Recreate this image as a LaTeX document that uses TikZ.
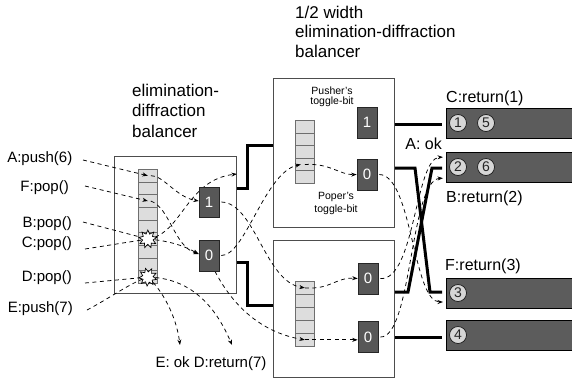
\documentclass[tikz,border=0pt]{standalone}
\usepackage{fontspec}
\setmainfont{Liberation Sans}
\usetikzlibrary{arrows.meta,shapes.geometric}

\definecolor{framegray}{HTML}{4D4D4D}
\definecolor{cellfill}{HTML}{DDDDDD}
\definecolor{cellrule}{HTML}{6E6E6E}
\definecolor{togglefill}{HTML}{575757}
\definecolor{barfill}{HTML}{5C5C5C}
\definecolor{ballfill}{HTML}{D6D6D6}

\newcommand{\fsz}[1]{\fontsize{#1}{#1}\selectfont}
\pgfdeclarelayer{front}
\pgfsetlayers{main,front}

\begin{document}
\begin{tikzpicture}[x=1pt,y=-1pt,
  balbox/.style={draw=framegray,line width=0.9pt,fill=white,inner sep=0pt,anchor=north west},
  cell/.style={draw=cellrule,fill=cellfill,line width=0.7pt,inner sep=0pt,minimum width=19pt,anchor=north west},
  toggle/.style={draw=black!85,fill=togglefill,text=white,line width=0.6pt,inner sep=0pt,
                 minimum width=20pt,minimum height=31pt,font=\fsz{15}},
  outbar/.style={draw=black,fill=barfill,line width=0.7pt,inner sep=0pt,
                 minimum width=128pt,minimum height=30pt,anchor=north west},
  ball/.style={circle,draw=black!90,fill=ballfill,line width=0.7pt,inner sep=0pt,
               minimum size=17pt,font=\fsz{14},text=black!85},
  wire/.style={line width=3pt,line join=miter},
  flow/.style={line width=0.75pt,dash pattern=on 4pt off 3.5pt},
  flowto/.style={flow,-{Stealth[length=5.5pt,width=4pt]}},
  lbl/.style={inner sep=0pt,font=\fsz{15}},
  rlbl/.style={inner sep=0pt,font=\fsz{16}},
  ttl/.style={inner sep=0pt,font=\fsz{17},anchor=base west},
  note/.style={inner sep=0pt,font=\fsz{10.5},anchor=base},
  crash/.style={star,star points=9,star point ratio=1.7,minimum size=18pt,inner sep=0pt,
                draw=black,fill=white,line width=0.7pt}
]
\useasboundingbox (0,0) rectangle (572,381);

% balancer frames
\node[balbox,minimum width=122pt,minimum height=137pt] (lb) at (114,156) {};
\node[balbox,minimum width=121pt,minimum height=149pt] (ub) at (273,78) {};
\node[balbox,minimum width=121pt,minimum height=137pt] (db) at (273,240) {};

% prism stacks
\foreach \k in {1,...,9}
  \node[cell,minimum height=12.67pt] (ls\k) at (138,{169+(\k-1)*12.67}) {};
\foreach \k in {1,...,5}
  \node[cell,minimum height=12.6pt] (us\k) at (295,{120+(\k-1)*12.6}) {};
\foreach \k in {1,...,5}
  \node[cell,minimum height=13pt] (ds\k) at (295,{281+(\k-1)*13}) {};

% toggle bits and prism collisions sit above the dashed paths
\begin{pgfonlayer}{front}
\node[toggle,minimum height=30pt] (lt1) at (209,202) {1};
\node[toggle] (lt0) at (209,255.5) {0};
\node[toggle] (ut1) at (367,122.5) {1};
\node[toggle] (ut0) at (367,174.5) {0};
\node[toggle] (dta) at (368,278.5) {0};
\node[toggle] (dtb) at (368,337) {0};
\node[crash] (x1) at (ls6.center) {};
\node[crash,rotate=15] (x2) at (ls9.center) {};
\end{pgfonlayer}

% output stacks
\node[outbar] (bar1) at (446,108) {};
\node[outbar] (bar2) at (446,152) {};
\node[outbar] (bar3) at (446,278) {};
\node[outbar] (bar4) at (446,320) {};
\node[ball] (b1) at (458,123) {1};
\node[ball] (b5) at (486,123) {5};
\node[ball] (b2) at (458,167) {2};
\node[ball] (b6) at (486,167) {6};
\node[ball] (b3) at (458,293) {3};
\node[ball] (b4) at (458,335) {4};

% titles and notes
\node[ttl] (lta) at (132,96) {elimination-};
\node[ttl] (ltb) at (132,116.5) {diffraction};
\node[ttl] (ltc) at (132,137) {balancer};
\node[ttl] (uta) at (295,18) {1/2 width};
\node[ttl] (utb) at (295,37.5) {elimination-diffraction};
\node[ttl] (utc) at (295,57) {balancer};
\node[note] (pusha) at (332,94) {Pusher's};
\node[note] (pushb) at (332,104.5) {toggle-bit};
\node[note] (popa) at (336,199) {Poper's};
\node[note] (popb) at (336,212) {toggle-bit};

% operation labels
\node[lbl,anchor=east] (la) at (72.5,159) {A:push(6)};
\node[lbl,anchor=east] (lf) at (69,188) {F:pop()};
\node[lbl,anchor=east] (lbp) at (72,224) {B:pop()};
\node[lbl,anchor=east] (lc) at (72,244) {C:pop()};
\node[lbl,anchor=east] (ld) at (72,277.5) {D:pop()};
\node[lbl,anchor=east] (le) at (73,309) {E:push(7)};
\node[rlbl,anchor=base west] (rc) at (446,102) {C:return(1)};
\node[rlbl,anchor=base east] (rok) at (442,149) {A: ok};
\node[rlbl,anchor=base west] (rb) at (446,202) {B:return(2)};
\node[rlbl,anchor=base west] (rf) at (445,270) {F:return(3)};
\node[lbl,anchor=base] (bot) at (211,367) {E: ok D:return(7)};

% wires between balancers
\draw[wire] (lb.east |- 0,188) -| (247,145) -- (ub.west |- 0,145);
\draw[wire] (lb.east |- 0,262) -| (247,305) -- (db.west |- 0,305);
\draw[wire,shorten >=4pt] (ub.east |- 0,124) -- (bar1.west |- 0,124);
\draw[wire,shorten >=4pt] (ub.east |- 0,168) -- (415,168) -- (430,292) -- (bar3.west |- 0,292);
\draw[wire,shorten >=4pt] (db.east |- 0,292) -- (408,292) -- (432,168) -- (bar2.west |- 0,168);
\draw[wire,shorten >=4pt] (db.east |- 0,337) -- (bar4.west |- 0,337);

% where the operations start and end
\coordinate (sa) at (83,160);
\coordinate (sf) at (85,186);
\coordinate (sb) at (83,222);
\coordinate (sc) at (85,249);
\coordinate (sd) at (85,283);
\coordinate (se) at (87,310);
\coordinate (eok) at (180,345);
\coordinate (dret) at (232,345);

% arrivals at the prism
\draw[flowto] (sa) -- (ls1.center);
\draw[flowto] (sf) -- (ls3.center);
\draw[flow] (sb) -- (ls6.center);
\draw[flow] (sc) -- (ls6.center);
\draw[flow] (sd) -- (ls9.center);
\draw[flow] (se) .. controls (110,298) and (130,283) .. (ls9.center);

% paths through the first balancer
\draw[flowto] ([xshift=3pt]ls1.center) .. controls (163,175) and (176,197) .. (lt1.west |- 0,201);
\draw[flowto] ([xshift=3pt]ls3.center) .. controls (170,208) and (174,246) .. (lt0.west |- 0,254);
\draw[flowto] (ls6.center) .. controls (182,234) and (186,180) .. (lb.east |- 0,174);
\draw[flowto] (ls6.center) .. controls (172,241) and (186,247) .. (lt0.west |- 0,254);
\draw[flowto] (ls9.center) .. controls (162,290) and (176,315) .. (eok);
\draw[flowto] (ls9.center) .. controls (190,278) and (215,305) .. (dret);

% paths into the half-width balancers
\draw[flowto] ([xshift=2pt]lt1.east) .. controls (255,203) and (265,282) .. (ds1.center);
\draw[flowto] ([xshift=2pt]lt0.east) .. controls (245,256) and (265,172) .. ([xshift=-4pt]us4.center);
\draw[flowto] ([xshift=6pt]lt0.south) .. controls (235,310) and (265,333) .. (ds5.center);
\draw[flowto] (us4.center) .. controls (330,163) and (340,175) .. (ut0.west);
\draw[flowto] (ds1.center) .. controls (330,290) and (336,277) .. (dta.west);
\draw[flowto] (ds5.center) -- (dtb.west |- ds5.center);

% paths to the output stacks
\draw[flowto,shorten >=3pt] ([xshift=2pt]ut0.east) .. controls (412,175) and (413,302) .. (bar3.west |- 0,302);
\draw[flowto,shorten >=3pt] ([xshift=2pt]dta.east) .. controls (415,281) and (415,158) .. (bar2.west |- 0,157);
\draw[flowto,shorten >=3pt] ([xshift=2pt]dtb.east) .. controls (412,338) and (410,180) .. (bar2.west |- 0,178);
\end{tikzpicture}
\end{document}
